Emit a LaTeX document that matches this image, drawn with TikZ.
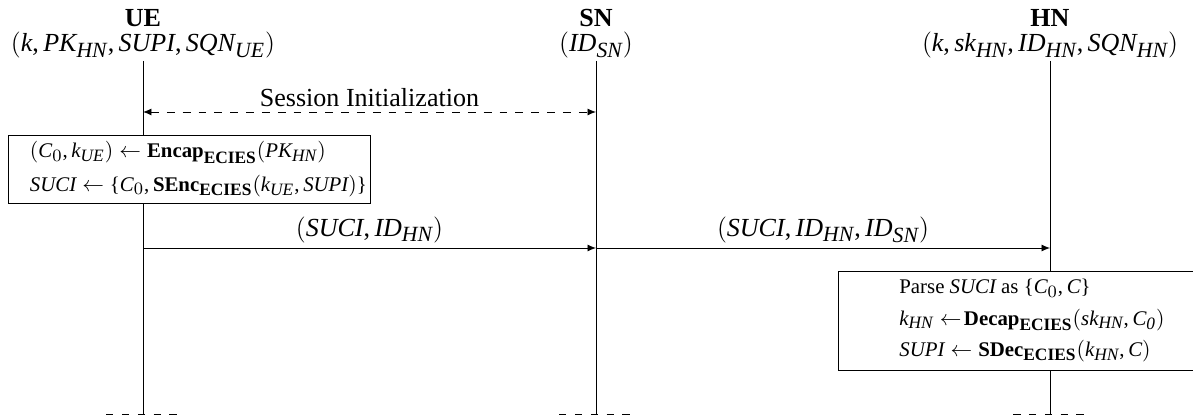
\documentclass[tikz,border=0pt]{standalone}
\usepackage{fontspec}
\setmainfont{Liberation Serif}
\usepackage[italic]{mathastext}
\usetikzlibrary{arrows.meta,positioning}
\tikzset{
  actor/.style={align=center,font=\large,inner sep=1pt},
  lifeline/.style={thin},
  lifeend/.style={thin,dash pattern=on 3.4pt off 3.9pt},
  msg/.style={-{Latex[length=3.9pt,width=3.2pt]},thin},
  initmsg/.style={{Latex[length=3.9pt,width=3.2pt]}-{Latex[length=3.9pt,width=3.2pt]},thin,
    dash pattern=on 3.6pt off 3.7pt},
  lbl/.style={font=\large,inner sep=2pt},
  procbox/.style={draw,thin,fill=white,align=left,font=\fontsize{9.6}{11.5}\selectfont,inner sep=2pt}
}
\newcommand{\ecies}[1]{\mathbf{#1}_{\mathbf{ECIES}}}

\begin{document}
\begin{tikzpicture}[x=0.4608pt,y=-0.4608pt]
  \useasboundingbox (0,0) rectangle (1193,419);
  \coordinate (bot) at (0,414);
  \coordinate (rinit) at (0,112);
  \coordinate (rsuci) at (0,248);

  \node[actor,anchor=south] (ue) at (143,61) {\textbf{UE}\\[-2.4pt]$(k, PK_{HN}, SUPI, SQN_{UE})$};
  \node[actor,anchor=south] (sn) at (596,61) {\textbf{SN}\\[-2.4pt]$(ID_{SN})$};
  \node[actor,anchor=south] (hn) at (1050,61) {\textbf{HN}\\[-2.4pt]$(k, sk_{HN}, ID_{HN}, SQN_{HN})$};

  \draw[lifeline] (ue.south) -- (ue.south |- bot) coordinate (ue-end);
  \draw[lifeline] (sn.south) -- (sn.south |- bot) coordinate (sn-end);
  \draw[lifeline] (hn.south) -- (hn.south |- bot) coordinate (hn-end);
  \draw[lifeend] ([xshift=-17pt]ue-end) -- ([xshift=16pt]ue-end);
  \draw[lifeend] ([xshift=-17pt]sn-end) -- ([xshift=16pt]sn-end);
  \draw[lifeend] ([xshift=-17pt]hn-end) -- ([xshift=16pt]hn-end);

  \draw[initmsg] (ue |- rinit) -- node[lbl,above] {Session Initialization} (sn |- rinit);

  \node[procbox,text width=146.6pt,inner xsep=10.1pt,minimum height=31.3pt] (uecalc) at (189,169)
    {\mbox{$(C_0, k_{UE}) \leftarrow \ecies{Encap}(PK_{HN})$}\\[4pt]
     \mbox{$SUCI \leftarrow \{C_0, \ecies{SEnc}(k_{UE}, SUPI)\}$}};

  \draw[msg] (ue |- rsuci) -- node[lbl,above] {$(SUCI, ID_{HN})$} (sn |- rsuci);
  \draw[msg] (sn |- rsuci) -- node[lbl,above] {$(SUCI, ID_{HN}, ID_{SN})$} (hn |- rsuci);

  \node[procbox,minimum width=178.8pt,minimum height=45.6pt] (hncalc) at (1032,320.5)
    {Parse $SUCI$ as $\{C_0, C\}$\\[3pt]
     $k_{HN} \leftarrow\!\ecies{Decap}(sk_{HN}, C_{\mathit{0}})$\\[3pt]
     $SUPI \leftarrow \ecies{SDec}(k_{HN}, C)$};
\end{tikzpicture}
\end{document}
